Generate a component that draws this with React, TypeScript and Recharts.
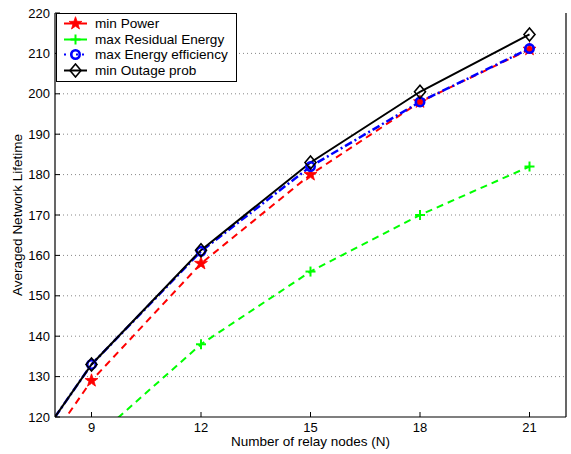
import React from 'react';
import {
    LineChart,
    Line,
    XAxis,
    YAxis,
    CartesianGrid,
    Legend
} from 'recharts';

// relay nodes (x)
const relayNodes = [8, 9, 12, 15, 18, 21];
const minPower = [116, 129, 158, 180, 198, 211];
const maxResidualEnergy = [106, null, 138, 156, 170, 182];
const maxEnergyEfficiency = [120, 133, 161, 182, 198, 211.2];
const minOutageProb = [120, 133, 161.3, 183, 200.5, 214.7];

const xTicks = [9, 12, 15, 18, 21];
const yTicks = [120, 130, 140, 150, 160, 170, 180, 190, 200, 210, 220];

const data = relayNodes.map((n, i) => ({
    n,
    power: minPower[i],
    residual: maxResidualEnergy[i],
    efficiency: maxEnergyEfficiency[i],
    outage: minOutageProb[i]
}));

const FONT = 'Arial, "Liberation Sans", Helvetica, sans-serif';
const RED = '#ff0000';
const GREEN = '#00ff00';
const BLUE = '#0000ff';
const BLACK = '#000000';

type Kind = 'star' | 'plus' | 'circle' | 'diamond';

const starPath = (cx: number, cy: number, ro: number, ri: number) => {
    let d = '';
    for (let k = 0; k < 10; k++) {
        const r = k % 2 === 0 ? ro : ri;
        const a = -Math.PI / 2 + (k * Math.PI) / 5;
        d += `${k === 0 ? 'M' : 'L'}${cx + r * Math.cos(a)},${cy + r * Math.sin(a)}`;
    }
    return d + 'Z';
};

const Marker = ({ kind, cx, cy }: { kind: Kind; cx: number; cy: number }) => {
    if (kind === 'star') {
        return <path d={starPath(cx, cy, 6.8, 2.7)} fill={RED} stroke={RED} strokeWidth={0.8} />;
    }
    if (kind === 'plus') {
        return (
            <g stroke={GREEN} strokeWidth={2}>
                <line x1={cx - 5} y1={cy} x2={cx + 5} y2={cy} />
                <line x1={cx} y1={cy - 5} x2={cx} y2={cy + 5} />
            </g>
        );
    }
    if (kind === 'circle') {
        return <circle cx={cx} cy={cy} r={4.2} fill="none" stroke={BLUE} strokeWidth={2.6} />;
    }
    return (
        <path
            d={`M${cx},${cy - 6.5}L${cx + 5.5},${cy}L${cx},${cy + 6.5}L${cx - 5.5},${cy}Z`}
            fill="none"
            stroke={BLACK}
            strokeWidth={1.6}
        />
    );
};

const markerDot = (kind: Kind) => (props: any) => {
    const { cx, cy, payload, value, index } = props;
    if (value == null || cx == null || cy == null || payload.n % 3 !== 0) {
        return <g key={`e-${kind}-${index}`} />;
    }
    return <Marker key={`${kind}-${index}`} kind={kind} cx={cx} cy={cy} />;
};

const legendItems: { label: string; color: string; dash?: string; width: number; kind: Kind }[] = [
    { label: 'min Power', color: RED, width: 2, kind: 'star' },
    { label: 'max Residual Energy', color: GREEN, width: 2, kind: 'plus' },
    { label: 'max Energy efficiency', color: BLUE, dash: '2 4', width: 2, kind: 'circle' },
    { label: 'min Outage prob', color: BLACK, width: 2, kind: 'diamond' }
];

const LegendBox = () => (
    <div
        style={{
            border: '1.5px solid #000',
            background: '#fff',
            width: 179,
            padding: '2px 0 3px 0',
            fontFamily: FONT,
            fontSize: 13.6,
            lineHeight: '15.5px',
            color: '#000'
        }}
    >
        {legendItems.map((item) => (
            <div key={item.label} style={{ display: 'flex', alignItems: 'center', height: 15.5 }}>
                <svg width={38} height={15} style={{ display: 'block' }}>
                    <line
                        x1={7}
                        y1={7.5}
                        x2={30}
                        y2={7.5}
                        stroke={item.color}
                        strokeWidth={item.width}
                        strokeDasharray={item.dash}
                    />
                    <Marker kind={item.kind} cx={18.5} cy={7.5} />
                </svg>
                <span style={{ whiteSpace: 'nowrap' }}>{item.label}</span>
            </div>
        ))}
    </div>
);

const tickStyle = { fill: '#000', fontSize: 13, fontFamily: FONT };

export default function App() {
    return (
        <div style={{ position: 'absolute', left: 0, top: 0, width: 571, height: 454, background: '#fff' }}>
            <LineChart
                width={571}
                height={454}
                data={data}
                margin={{ top: 13, right: 0, bottom: 0, left: 0 }}
                style={{ fontFamily: FONT }}
            >
                <CartesianGrid
                    vertical={false}
                    horizontal
                    strokeDasharray="1 3"
                    stroke="#888"
                    horizontalValues={yTicks.slice(1, -1)}
                />
                <XAxis
                    xAxisId={0}
                    dataKey="n"
                    type="number"
                    domain={[8, 22]}
                    ticks={xTicks}
                    allowDataOverflow
                    height={37}
                    tickSize={-5}
                    tickMargin={11}
                    tick={tickStyle}
                    stroke="#000"
                    tickLine={{ stroke: '#000' }}
                    axisLine={{ stroke: '#000', strokeWidth: 1.2 }}
                    label={{
                        value: 'Number of relay nodes (N)',
                        position: 'insideBottom',
                        offset: 8,
                        style: { fill: '#000', fontSize: 13.5, fontFamily: FONT }
                    }}
                />
                <XAxis
                    xAxisId="top"
                    dataKey="n"
                    type="number"
                    orientation="top"
                    domain={[8, 22]}
                    ticks={xTicks}
                    allowDataOverflow
                    height={0}
                    tickSize={-5}
                    tick={false}
                    stroke="#000"
                    axisLine={{ stroke: '#000', strokeWidth: 1.2 }}
                />
                <YAxis
                    yAxisId={0}
                    type="number"
                    domain={[120, 220]}
                    ticks={yTicks}
                    allowDataOverflow
                    width={55}
                    tickSize={-5}
                    tickMargin={10}
                    tick={tickStyle}
                    stroke="#000"
                    tickLine={{ stroke: '#000' }}
                    axisLine={{ stroke: '#000', strokeWidth: 1.2 }}
                    label={{
                        value: 'Averaged Network Lifetime',
                        angle: -90,
                        position: 'insideLeft',
                        offset: 17,
                        style: { textAnchor: 'middle', fill: '#000', fontSize: 13.5, fontFamily: FONT }
                    }}
                />
                <YAxis
                    yAxisId="right"
                    type="number"
                    orientation="right"
                    domain={[120, 220]}
                    ticks={yTicks}
                    allowDataOverflow
                    width={5}
                    tickSize={-5}
                    tick={false}
                    stroke="#000"
                    axisLine={{ stroke: '#000', strokeWidth: 1.2 }}
                />
                <Legend
                    layout="vertical"
                    align="center"
                    verticalAlign="middle"
                    wrapperStyle={{ left: 56, top: 13, width: 'auto' }}
                    content={() => <LegendBox />}
                />
                <Line
                    type="linear"
                    dataKey="power"
                    stroke={RED}
                    strokeWidth={2}
                    strokeDasharray="7 5"
                    dot={markerDot('star')}
                    activeDot={false}
                    isAnimationActive={false}
                />
                <Line
                    type="linear"
                    dataKey="residual"
                    stroke={GREEN}
                    strokeWidth={2}
                    strokeDasharray="7 5"
                    connectNulls
                    dot={markerDot('plus')}
                    activeDot={false}
                    isAnimationActive={false}
                />
                <Line
                    type="linear"
                    dataKey="efficiency"
                    stroke={BLUE}
                    strokeWidth={2.5}
                    strokeDasharray="8 3 2 3"
                    dot={markerDot('circle')}
                    activeDot={false}
                    isAnimationActive={false}
                />
                <Line
                    type="linear"
                    dataKey="outage"
                    stroke={BLACK}
                    strokeWidth={2}
                    dot={markerDot('diamond')}
                    activeDot={false}
                    isAnimationActive={false}
                />
            </LineChart>
        </div>
    );
}
